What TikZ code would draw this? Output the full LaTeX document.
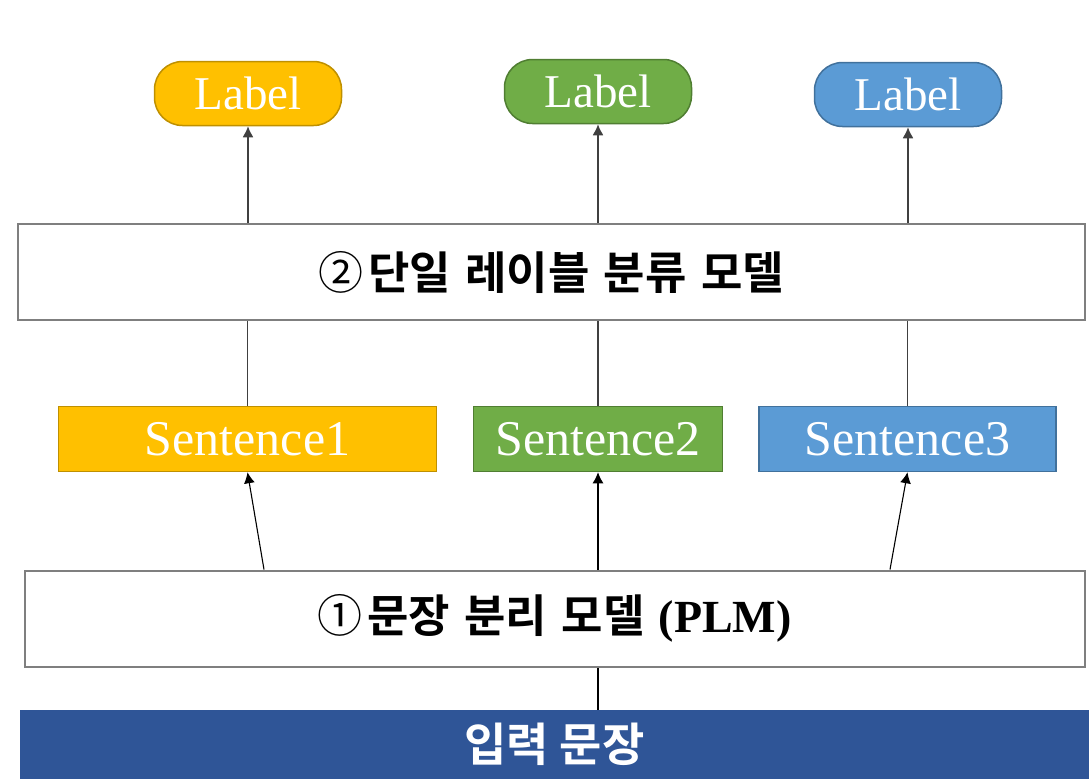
\documentclass[tikz,border=0pt]{standalone}
\usepackage{fontspec}
\setmainfont{Liberation Serif}
\newfontfamily\krb{Noto Sans CJK KR Bold}
\newfontfamily\krr{Noto Sans CJK KR}
\usetikzlibrary{arrows.meta}

\definecolor{goldfill}{HTML}{FFC000}
\definecolor{goldline}{HTML}{BF9000}
\definecolor{greenfill}{HTML}{70AD47}
\definecolor{greenline}{HTML}{507E32}
\definecolor{bluefill}{HTML}{5B9BD5}
\definecolor{blueline}{HTML}{41719C}
\definecolor{barblue}{HTML}{2F5597}
\definecolor{boxgray}{HTML}{7F7F7F}

% word gap used in the Korean captions
\newcommand\kgap{\hspace{0.32em}}

\tikzset{
  graybox/.style={draw=boxgray, line width=2pt, fill=white, inner sep=0pt,
    minimum height=96pt, font=\fontsize{45}{52}\selectfont},
  sentbox/.style={line width=1.5pt, inner sep=0pt, minimum height=65pt,
    text=white, font=\fontsize{50}{58}\selectfont},
  labelbox/.style={rounded corners=28pt, line width=1.5pt, inner sep=0pt,
    minimum width=187pt, minimum height=64pt, text=white,
    font=\fontsize{47}{55}\selectfont},
  link/.style={draw=black!75, line width=1.6pt},
  thinlink/.style={draw=black, line width=1.1pt},
  arr/.style={-{Latex[length=11pt,width=11pt]}}
}

\begin{document}
\begin{tikzpicture}[x=1pt,y=-1pt]
\useasboundingbox (0,0) rectangle (1089,779);

% output labels
\node[labelbox, fill=goldfill, draw=goldline] (l1) at (248,93.5) {Label};
\node[labelbox, fill=greenfill, draw=greenline] (l2) at (598,91.5) {Label};
\node[labelbox, fill=bluefill, draw=blueline] (l3) at (908,94.5) {Label};

% single-label classifier
\node[graybox, minimum width=1067pt] (m2) at (551,272)
  {\krr ②\hspace{5pt}\krb 단일\kgap 레이블\kgap 분류\kgap 모델};

% split sentences
\node[sentbox, fill=goldfill, draw=goldline, minimum width=378pt] (s1) at (247.5,439) {Sentence1};
\node[sentbox, fill=greenfill, draw=greenline, minimum width=249pt] (s2) at (598,439) {Sentence2};
\node[sentbox, fill=bluefill, draw=blueline, minimum width=297pt] (s3) at (907.5,439) {Sentence3};

% sentence splitter
\node[graybox, minimum width=1060pt] (m1) at (554.5,618.5)
  {\krr ①\hspace{5pt}\krb 문장\kgap 분리\kgap 모델\kgap{\rmfamily\bfseries\fontsize{46}{54}\selectfont (PLM)}};

% input bar
\node[fill=barblue, inner sep=0pt, minimum width=1069pt, minimum height=69pt,
  text=white, font=\krb\fontsize{46}{54}\selectfont] (inp) at (554.5,744.5) {입력 문장};

% start points of the slanted arrows
\coordinate (t1) at (264,0);
\coordinate (t3) at (890,0);

% classifier -> labels
\draw[link, arr] (m2.north -| l1) -- (l1.south);
\draw[link, arr] (m2.north -| l2) -- (l2.south);
\draw[link, arr] (m2.north -| l3) -- (l3.south);

% sentences -> classifier
\draw[link] (s1.north) -- (s1.north |- m2.south);
\draw[link] (s2.north) -- (s2.north |- m2.south);
\draw[link] (s3.north) -- (s3.north |- m2.south);

% splitter -> sentences
\draw[thinlink, arr] (m1.north -| t1) -- (s1.south);
\draw[thinlink, arr] (m1.north -| s2) -- (s2.south);
\draw[thinlink, arr] (m1.north -| t3) -- (s3.south);

% input -> splitter
\draw[thinlink] (inp.north -| s2) -- (m1.south -| s2);
\end{tikzpicture}
\end{document}
